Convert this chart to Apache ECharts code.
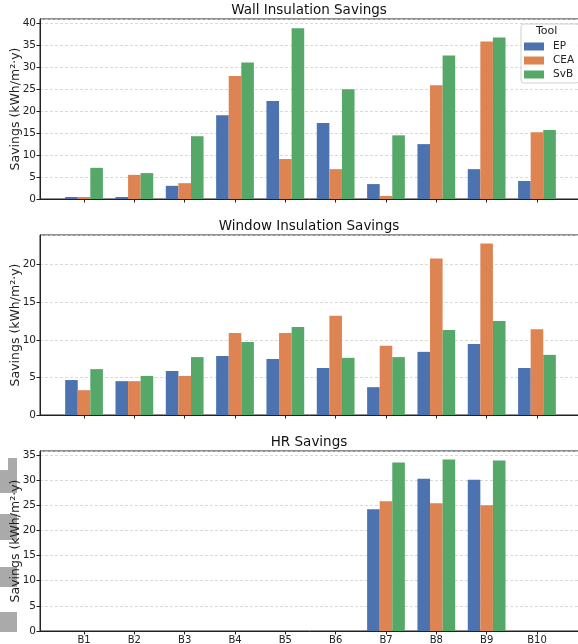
<!DOCTYPE html>
<html>
<head>
<meta charset="utf-8">
<script src="https://cdn.jsdelivr.net/npm/echarts@6/dist/echarts.min.js"></script>
<style>
html,body{margin:0;padding:0;background:#fff;}
#c{width:578px;height:644px;}
</style>
</head>
<body>
<div id="c"></div>
<script>
const categories = ['B1','B2','B3','B4','B5','B6','B7','B8','B9','B10'];
const tools = ['EP','CEA','SvB'];
const panelTitles = ['Wall Insulation Savings','Window Insulation Savings','HR Savings'];
const yTicks = [0,5,10,15,20,25,30,35,40];

const wallEP  = [0.45,0.45,3.0,19.1,22.3,17.3,3.4,12.5,6.8,4.1];
const wallCEA = [0.45,5.5,3.6,28.0,9.1,6.8,0.7,25.9,35.9,15.2];
const wallSvB = [7.1,5.9,14.3,31.1,38.9,25.0,14.5,32.7,36.8,15.7];

const winEP  = [4.65,4.5,5.85,7.85,7.45,6.25,3.7,8.4,9.45,6.25];
const winCEA = [3.3,4.5,5.2,10.9,10.9,13.2,9.2,20.8,22.8,11.4];
const winSvB = [6.1,5.2,7.7,9.7,11.7,7.6,7.7,11.3,12.5,8.0];

const hrEP  = [0,0,0,0,0,0,24.2,30.3,30.1,0];
const hrCEA = [0,0,0,0,0,0,25.8,25.4,25.0,0];
const hrSvB = [0,0,0,0,0,0,33.5,34.1,33.9,0];

const colors = ['#4c72b0','#dd8452','#55a868'];
const panels = [
  {data:[wallEP,wallCEA,wallSvB], top:19, height:180, max:41.0},
  {data:[winEP,winCEA,winSvB], top:235, height:180, max:23.94},
  {data:[hrEP,hrCEA,hrSvB], top:451, height:180, max:35.8}
];

const FONT = 'DejaVu Sans';
const grids=[], xAxes=[], yAxes=[], series=[], titles=[];
const idx = categories.map((_,i)=>i);
panels.forEach((p,k)=>{
  grids.push({left:40, right:-3, top:p.top, height:p.height, show:true, borderColor:'#222', borderWidth:1,
    backgroundColor:'transparent', outerBoundsMode:'none', containLabel:false});
  xAxes.push({
    type:'value', gridIndex:k, min:-0.875, max:9.875,
    axisLine:{show:true, onZero:false, lineStyle:{color:'#222', width:1}},
    axisTick:{show:true, customValues:idx, length:3.5, lineStyle:{color:'#222'}},
    axisLabel:{show:k===2, customValues:idx, formatter:v=>categories[Math.round(v)]||'', color:'#222', fontSize:10, fontFamily:FONT, margin:4},
    splitLine:{show:false}
  });
  yAxes.push({
    type:'value', gridIndex:k, min:0, max:p.max, interval:5,
    name:'Savings (kWh/m²·y)', nameLocation:'middle', nameGap:18, nameMoveOverlap:false,
    nameTextStyle:{fontSize:12.5, color:'#222', fontFamily:FONT},
    axisLine:{show:true, onZero:false, lineStyle:{color:'#222', width:1}},
    axisTick:{show:true, length:3.5, lineStyle:{color:'#222'}},
    axisLabel:{color:'#222', fontSize:10.5, fontFamily:FONT, margin:4, showMaxLabel:false,
      formatter:v=> (yTicks.indexOf(v)>=0 ? String(v) : '')},
    splitLine:{show:true, lineStyle:{color:'#cfcfcf', type:[3,2], width:0.8}}
  });
  titles.push({text:panelTitles[k], left:309, top:p.top-16, textAlign:'center', padding:0,
    textStyle:{fontSize:13.5, fontWeight:'normal', color:'#111', fontFamily:FONT}});
  p.data.forEach((arr,s)=>{
    series.push({
      type:'bar', name:tools[s], xAxisIndex:k, yAxisIndex:k,
      data:arr.map((v,i)=>[i,v]), barWidth:12.58, barGap:'0%',
      itemStyle:{color:colors[s]}, animation:false
    });
  });
});

const chart = echarts.init(document.getElementById('c'), null, {renderer:'canvas'});
chart.setOption({
  animation:false,
  textStyle:{fontFamily:FONT},
  title:titles,
  grid:grids, xAxis:xAxes, yAxis:yAxes, series:series,
  legend:{
    data:tools, left:521, top:24, orient:'vertical', align:'left',
    itemWidth:20, itemHeight:8, itemGap:1, icon:'rect',
    padding:[16,5,2,3],
    backgroundColor:'rgba(255,255,255,0.85)', borderColor:'#d0d0d0', borderWidth:1, borderRadius:3,
    textStyle:{fontSize:10.5, color:'#222', fontFamily:FONT, lineHeight:13, padding:[0,0,0,4]}
  },
  graphic:[
    {type:'text', left:536, top:26, z:100, style:{text:'Tool', fontSize:11, fill:'#222', fontFamily:FONT}},
    {type:'rect', shape:{x:8,y:458,width:9,height:12}, style:{fill:'#aaaaaa'}, z:-1},
    {type:'rect', shape:{x:0,y:470,width:17,height:23}, style:{fill:'#aaaaaa'}, z:-1},
    {type:'rect', shape:{x:0,y:514,width:17,height:26}, style:{fill:'#aaaaaa'}, z:-1},
    {type:'rect', shape:{x:0,y:567,width:17,height:20}, style:{fill:'#aaaaaa'}, z:-1},
    {type:'rect', shape:{x:0,y:612,width:17,height:20}, style:{fill:'#aaaaaa'}, z:-1}
  ]
});
</script>
</body>
</html>
